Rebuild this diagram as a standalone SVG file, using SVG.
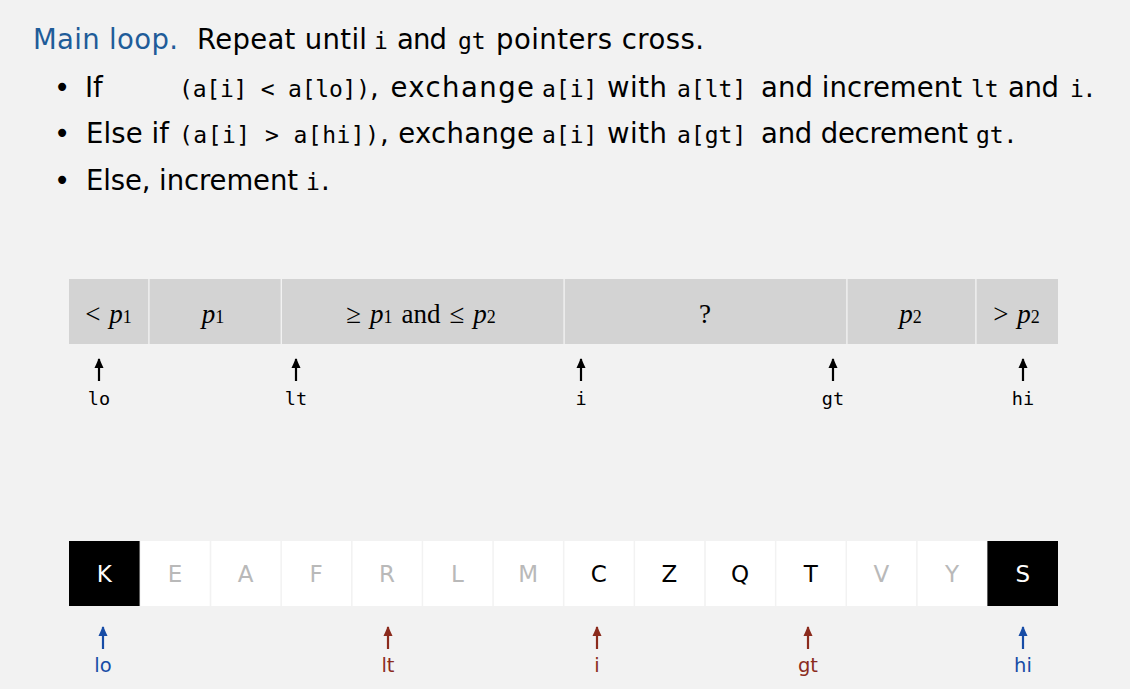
<svg xmlns="http://www.w3.org/2000/svg" width="1130" height="689" viewBox="0 0 1130 689">
  <style>
    .sans { font-family: "DejaVu Sans", "Open Sans", sans-serif; font-size: 27.5px; fill: #000; }
    .mono { font-family: "DejaVu Sans Mono", "Liberation Mono", monospace; font-size: 23px; fill: #000; }
    .head { fill: #1f5c99; }
    .serif { font-family: "Liberation Serif", "Times New Roman", serif; font-size: 27px; fill: #000; }
    .it { font-style: italic; }
    .sub { font-size: 18px; }
    .band { fill: #d3d3d3; }
    .ptr { font-family: "DejaVu Sans Mono", "Liberation Mono", monospace; font-size: 18.5px; fill: #000; text-anchor: middle; }
    .cell { fill: #ffffff; }
    .cell.dark { fill: #000000; }
    .key { font-family: "DejaVu Sans", "Open Sans", sans-serif; font-size: 23px; text-anchor: middle; }
    .faint { fill: #b9b9b9; }
    .solid { fill: #000000; }
    .inv { fill: #ffffff; }
    .lbl { font-family: "DejaVu Sans", "Open Sans", sans-serif; font-size: 19.5px; text-anchor: middle; }
    .blue { fill: #174ca6; }
    .red { fill: #8b2b1d; }
    .shaft { stroke-width: 2.2; fill: none; }
  </style>
  <defs>
    <marker id="ah-black" markerUnits="userSpaceOnUse" markerWidth="10" markerHeight="10" refX="9" refY="5" orient="auto">
      <path d="M0,0.5 L10,5 L0,9.5 z" fill="#000"/>
    </marker>
    <marker id="ah-blue" markerUnits="userSpaceOnUse" markerWidth="10" markerHeight="10" refX="9" refY="5" orient="auto">
      <path d="M0,0.5 L10,5 L0,9.5 z" fill="#174ca6"/>
    </marker>
    <marker id="ah-red" markerUnits="userSpaceOnUse" markerWidth="10" markerHeight="10" refX="9" refY="5" orient="auto">
      <path d="M0,0.5 L10,5 L0,9.5 z" fill="#8b2b1d"/>
    </marker>
  </defs>

  <rect width="1130" height="689" fill="#f2f2f2"/>

  <!-- description of the main loop -->
  <g id="description">
    <text class="sans head" x="33" y="49" textLength="145" lengthAdjust="spacing">Main loop.</text>
    <text class="sans" x="197" y="49" textLength="170" lengthAdjust="spacing">Repeat until</text>
    <text class="mono" x="374" y="49">i</text>
    <text class="sans" x="397" y="49" textLength="50" lengthAdjust="spacing">and</text>
    <text class="mono" x="458" y="49">gt</text>
    <text class="sans" x="496" y="49" textLength="208" lengthAdjust="spacing">pointers cross.</text>

    <text class="sans" x="62" y="97" text-anchor="middle">•</text>
    <text class="sans" x="85" y="97">If</text>
    <text class="mono" x="179" y="97" textLength="191" lengthAdjust="spacing">(a[i] &lt; a[lo])</text>
    <text class="sans" x="370" y="97" textLength="164" lengthAdjust="spacing">, exchange</text>
    <text class="mono" x="542" y="97">a[i]</text>
    <text class="sans" x="607" y="97" textLength="60" lengthAdjust="spacing">with</text>
    <text class="mono" x="677" y="97">a[lt]</text>
    <text class="sans" x="761" y="97" textLength="201" lengthAdjust="spacing">and increment</text>
    <text class="mono" x="971" y="97">lt</text>
    <text class="sans" x="1008" y="97" textLength="51" lengthAdjust="spacing">and</text>
    <text class="mono" x="1070" y="97">i</text>
    <text class="sans" x="1085" y="97">.</text>

    <text class="sans" x="62" y="143" text-anchor="middle">•</text>
    <text class="sans" x="86" y="143" textLength="83" lengthAdjust="spacing">Else if</text>
    <text class="mono" x="179" y="143" textLength="200" lengthAdjust="spacing">(a[i] &gt; a[hi])</text>
    <text class="sans" x="380" y="143" textLength="154" lengthAdjust="spacing">, exchange</text>
    <text class="mono" x="542" y="143">a[i]</text>
    <text class="sans" x="607" y="143" textLength="60" lengthAdjust="spacing">with</text>
    <text class="mono" x="677" y="143">a[gt]</text>
    <text class="sans" x="761" y="143" textLength="207" lengthAdjust="spacing">and decrement</text>
    <text class="mono" x="976" y="143">gt</text>
    <text class="sans" x="1006" y="143">.</text>

    <text class="sans" x="62" y="190" text-anchor="middle">•</text>
    <text class="sans" x="86" y="190" textLength="212" lengthAdjust="spacing">Else, increment</text>
    <text class="mono" x="306" y="190">i</text>
    <text class="sans" x="321" y="190">.</text>
  </g>

  <!-- partition invariant band -->
  <g id="band-less-p1">
    <rect class="band" x="69" y="279" width="79.2" height="65"/>
    <text class="serif" x="108.5" y="323" text-anchor="middle">&lt;<tspan class="it" dx="9">p</tspan><tspan class="sub">1</tspan></text>
  </g>
  <g id="band-p1">
    <rect class="band" x="149.6" y="279" width="131" height="65"/>
    <text class="serif" x="213" y="323" text-anchor="middle"><tspan class="it">p</tspan><tspan class="sub">1</tspan></text>
  </g>
  <g id="band-middle">
    <rect class="band" x="282" y="279" width="281.4" height="65"/>
    <text class="serif" x="421" y="323" text-anchor="middle">≥<tspan class="it" dx="9">p</tspan><tspan class="sub">1</tspan><tspan dx="9">and</tspan><tspan dx="9">≤</tspan><tspan class="it" dx="9">p</tspan><tspan class="sub">2</tspan></text>
  </g>
  <g id="band-unknown">
    <rect class="band" x="564.8" y="279" width="281.4" height="65"/>
    <text class="serif" x="705" y="323" text-anchor="middle">?</text>
  </g>
  <g id="band-p2">
    <rect class="band" x="847.6" y="279" width="127.6" height="65"/>
    <text class="serif" x="910.5" y="323" text-anchor="middle"><tspan class="it">p</tspan><tspan class="sub">2</tspan></text>
  </g>
  <g id="band-greater-p2">
    <rect class="band" x="976.6" y="279" width="81.4" height="65"/>
    <text class="serif" x="1016.5" y="323" text-anchor="middle">&gt;<tspan class="it" dx="9">p</tspan><tspan class="sub">2</tspan></text>
  </g>

  <!-- pointer names under the band -->
  <g id="band-pointers">
    <text class="ptr" x="99" y="405">lo</text>
    <text class="ptr" x="296" y="405">lt</text>
    <text class="ptr" x="581" y="405">i</text>
    <text class="ptr" x="833" y="405">gt</text>
    <text class="ptr" x="1023" y="405">hi</text>
  </g>

  <!-- example array -->
  <g id="cell-0"><rect class="cell dark" x="69" y="541" width="70.6" height="65"/><text class="key inv" x="104.3" y="582">K</text></g>
  <g id="cell-1"><rect class="cell" x="140.6" y="541" width="69.1" height="65"/><text class="key faint" x="175" y="582">E</text></g>
  <g id="cell-2"><rect class="cell" x="211.3" y="541" width="69.1" height="65"/><text class="key faint" x="245.6" y="582">A</text></g>
  <g id="cell-3"><rect class="cell" x="281.9" y="541" width="69.1" height="65"/><text class="key faint" x="316.2" y="582">F</text></g>
  <g id="cell-4"><rect class="cell" x="352.6" y="541" width="69.1" height="65"/><text class="key faint" x="386.9" y="582">R</text></g>
  <g id="cell-5"><rect class="cell" x="423.2" y="541" width="69.1" height="65"/><text class="key faint" x="457.5" y="582">L</text></g>
  <g id="cell-6"><rect class="cell" x="493.8" y="541" width="69.1" height="65"/><text class="key faint" x="528.2" y="582">M</text></g>
  <g id="cell-7"><rect class="cell" x="564.5" y="541" width="69.1" height="65"/><text class="key solid" x="598.8" y="582">C</text></g>
  <g id="cell-8"><rect class="cell" x="635.1" y="541" width="69.1" height="65"/><text class="key solid" x="669.4" y="582">Z</text></g>
  <g id="cell-9"><rect class="cell" x="705.8" y="541" width="69.1" height="65"/><text class="key solid" x="740.1" y="582">Q</text></g>
  <g id="cell-10"><rect class="cell" x="776.4" y="541" width="69.1" height="65"/><text class="key solid" x="810.7" y="582">T</text></g>
  <g id="cell-11"><rect class="cell" x="847" y="541" width="69.1" height="65"/><text class="key faint" x="881.4" y="582">V</text></g>
  <g id="cell-12"><rect class="cell" x="917.7" y="541" width="69.1" height="65"/><text class="key faint" x="952" y="582">Y</text></g>
  <g id="cell-13"><rect class="cell dark" x="987.4" y="541" width="70.6" height="65"/><text class="key inv" x="1022.7" y="582">S</text></g>

  <!-- pointer names under the array -->
  <g id="array-pointers">
    <text class="lbl blue" x="103" y="672">lo</text>
    <text class="lbl red" x="388" y="672">lt</text>
    <text class="lbl red" x="597" y="672">i</text>
    <text class="lbl red" x="808" y="672">gt</text>
    <text class="lbl blue" x="1023" y="672">hi</text>
  </g>

  <!-- pointer arrows -->
  <g id="connectors">
    <line class="shaft" stroke="#000" x1="99" y1="381" x2="99" y2="359" marker-end="url(#ah-black)"/>
    <line class="shaft" stroke="#000" x1="296" y1="381" x2="296" y2="359" marker-end="url(#ah-black)"/>
    <line class="shaft" stroke="#000" x1="581" y1="381" x2="581" y2="359" marker-end="url(#ah-black)"/>
    <line class="shaft" stroke="#000" x1="833" y1="381" x2="833" y2="359" marker-end="url(#ah-black)"/>
    <line class="shaft" stroke="#000" x1="1023" y1="381" x2="1023" y2="359" marker-end="url(#ah-black)"/>

    <line class="shaft" stroke="#174ca6" x1="103" y1="649" x2="103" y2="627" marker-end="url(#ah-blue)"/>
    <line class="shaft" stroke="#8b2b1d" x1="388" y1="649" x2="388" y2="627" marker-end="url(#ah-red)"/>
    <line class="shaft" stroke="#8b2b1d" x1="597" y1="649" x2="597" y2="627" marker-end="url(#ah-red)"/>
    <line class="shaft" stroke="#8b2b1d" x1="808" y1="649" x2="808" y2="627" marker-end="url(#ah-red)"/>
    <line class="shaft" stroke="#174ca6" x1="1023" y1="649" x2="1023" y2="627" marker-end="url(#ah-blue)"/>
  </g>
</svg>
